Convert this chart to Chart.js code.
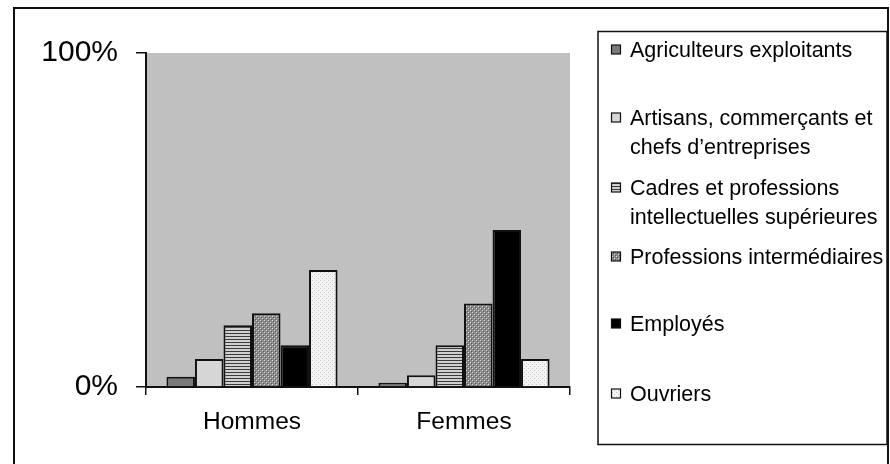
<!DOCTYPE html>
<html>
<head>
<meta charset="utf-8">
<script src="https://cdn.jsdelivr.net/npm/chart.js@4.4.1/dist/chart.umd.min.js"></script>
<style>
  html, body { margin: 0; padding: 0; background: #fff; }
  #wrap { position: relative; width: 890px; height: 464px; }
</style>
</head>
<body>
<div id="wrap"><canvas id="c"></canvas></div>
<script>
// ---- Data ----
const categories = ['Hommes', 'Femmes'];
const seriesNames = [
  'Agriculteurs exploitants',
  'Artisans, commerçants et\nchefs d’entreprises',
  'Cadres et professions\nintellectuelles supérieures',
  'Professions intermédiaires',
  'Employés',
  'Ouvriers'
];
const agriculteurs = [3.1, 1.3];
const artisans = [8.4, 3.5];
const cadres = [18.5, 12.5];
const professionsInter = [22.1, 25.0];
const employes = [12.5, 47.0];
const ouvriers = [35.0, 8.4];
const yTickValues = [0, 100];

// ---- Patterns ----
function makePattern(w, h, base, dots) {
  const c = document.createElement('canvas');
  c.width = w; c.height = h;
  const g = c.getContext('2d');
  g.fillStyle = base; g.fillRect(0, 0, w, h);
  dots.forEach(d => { g.fillStyle = d[2]; g.fillRect(d[0], d[1], d[3] || 1, d[4] || 1); });
  return g.createPattern(c, 'repeat');
}
const fills = [
  '#7a7a7a',
  '#d6d6d6',
  makePattern(3, 3, '#d0d0d0', [[0, 0, '#3a3a3a', 3, 1]]),
  makePattern(4, 4, '#8a8a8a', [[0, 0, '#dcdcdc'], [2, 2, '#dcdcdc'], [1, 1, '#5a5a5a'], [3, 3, '#5a5a5a']]),
  '#000000',
  makePattern(4, 4, '#f4f4f4', [[0, 0, '#c4c4c4'], [2, 2, '#c4c4c4']])
];
const seriesData = [agriculteurs, artisans, cadres, professionsInter, employes, ouvriers];

const LEFT = 146, TOP = 53, RIGHT = 570, BOTTOM = 387;

const framePlugin = {
  id: 'frame',
  beforeDraw(chart) {
    const ctx = chart.ctx;
    const a = chart.chartArea;
    ctx.save();
    ctx.fillStyle = '#fff';
    ctx.fillRect(0, 0, chart.width, chart.height);
    ctx.fillStyle = '#c0c0c0';
    ctx.fillRect(a.left, a.top, a.right - a.left, a.bottom - a.top);
    // outer frame
    ctx.strokeStyle = '#111';
    ctx.lineWidth = 2;
    ctx.beginPath();
    ctx.moveTo(14, 470); ctx.lineTo(14, 8); ctx.lineTo(888, 8); ctx.lineTo(888, 470);
    ctx.stroke();
    ctx.restore();
  },
  afterDraw(chart) {
    const ctx = chart.ctx;
    ctx.save();
    // legend box
    ctx.strokeStyle = '#111';
    ctx.lineWidth = 1.5;
    ctx.strokeRect(598, 31.5, 289, 413);
    const lineYs = [[50], [118, 147], [188, 217], [257], [324], [394]];
    ctx.font = '21.5px "Liberation Sans", Arial, sans-serif';
    ctx.textBaseline = 'middle';
    ctx.textAlign = 'left';
    chart.data.datasets.forEach((ds, i) => {
      const lines = ds.label.split('\n');
      const ys = lineYs[i];
      // marker
      ctx.fillStyle = ds.backgroundColor;
      ctx.fillRect(611.5, ys[0] - 5, 9, 9);
      ctx.strokeStyle = '#111';
      ctx.lineWidth = 1.2;
      ctx.strokeRect(611.5, ys[0] - 5, 9, 9);
      ctx.fillStyle = '#000';
      lines.forEach((t, k) => ctx.fillText(t, 630, ys[k] + 1));
    });
    ctx.restore();
  }
};

new Chart(document.getElementById('c'), {
  type: 'bar',
  data: {
    labels: categories,
    datasets: seriesNames.map((name, i) => ({
      label: name,
      data: seriesData[i],
      backgroundColor: fills[i],
      borderColor: '#111',
      borderWidth: 2,
      borderSkipped: 'start',
      categoryPercentage: 0.807,
      barPercentage: 1.0
    }))
  },
  options: {
    responsive: true,
    maintainAspectRatio: false,
    animation: false,
    layout: { padding: { top: TOP, right: 890 - RIGHT, bottom: 0, left: 0 } },
    plugins: {
      legend: { display: false },
      tooltip: { enabled: false }
    },
    scales: {
      x: {
        afterFit(s) { s.height = 464 - BOTTOM; },
        grid: { display: true, drawOnChartArea: false, offset: true, tickLength: 8, color: '#111', lineWidth: 1.5 },
        border: { display: true, color: '#111', width: 2 },
        ticks: { color: '#000', padding: 13, font: { family: '"Liberation Sans", Arial, sans-serif', size: 24.5 } }
      },
      y: {
        min: 0, max: 100,
        afterFit(s) { s.width = LEFT; },
        afterBuildTicks(s) { s.ticks = yTickValues.map(v => ({ value: v })); },
        grid: { display: true, drawOnChartArea: false, tickLength: 10, color: '#111', lineWidth: 1.5 },
        border: { display: true, color: '#111', width: 2 },
        ticks: {
          color: '#000', padding: 18,
          font: { family: '"Liberation Sans", Arial, sans-serif', size: 30 },
          callback: v => v + '%'
        }
      }
    }
  },
  plugins: [framePlugin]
});
</script>
</body>
</html>
